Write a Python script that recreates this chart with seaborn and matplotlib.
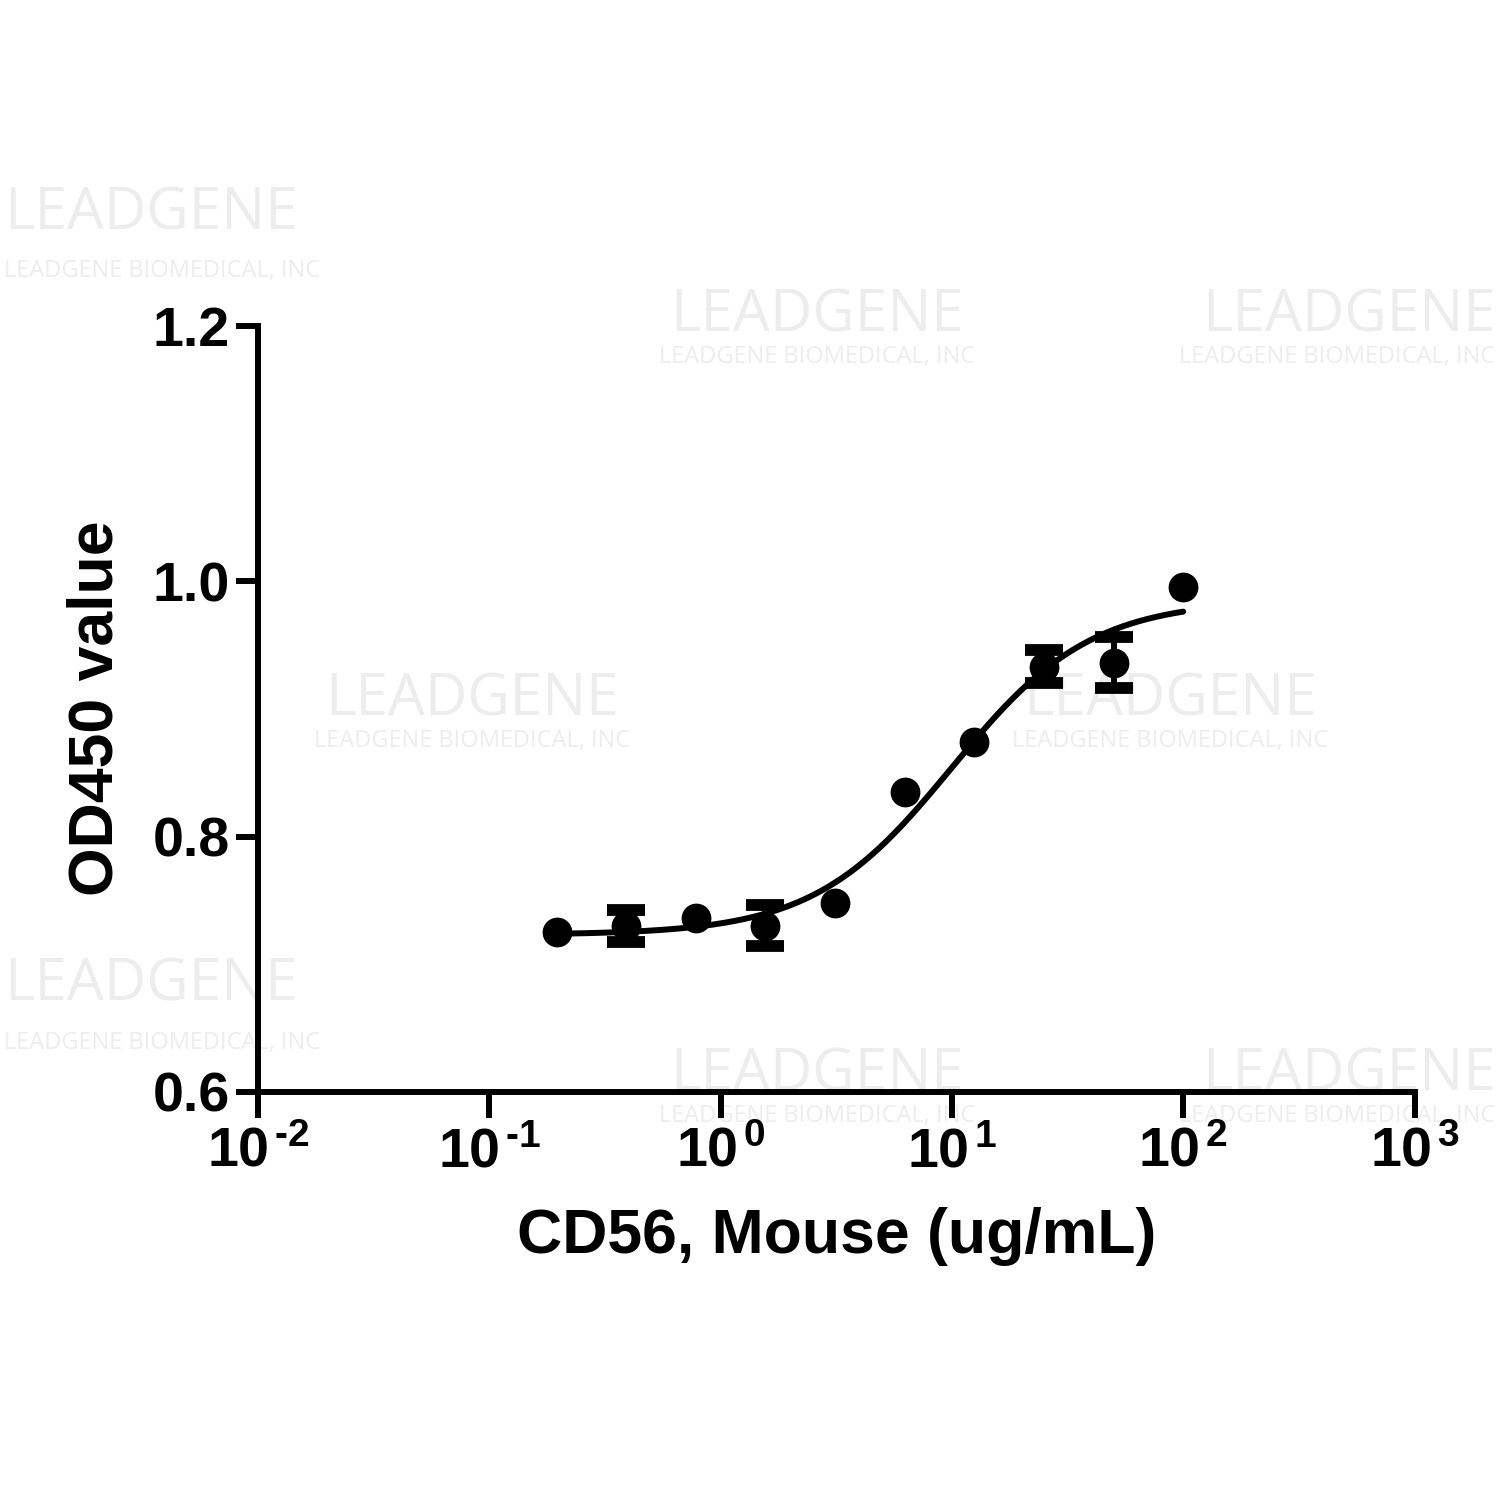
import numpy as np
import pandas as pd
import matplotlib
matplotlib.use("Agg")
import matplotlib.pyplot as plt
import seaborn as sns

# ---- data ----
conc = [0.1953125, 0.390625, 0.78125, 1.5625, 3.125, 6.25, 12.5, 25, 50, 100]
od450 = [0.725, 0.730, 0.736, 0.730, 0.748, 0.835, 0.874, 0.933, 0.936, 0.995]
od_err = [0.0, 0.0125, 0.0, 0.016, 0.0, 0.0, 0.0, 0.013, 0.020, 0.0]
# fitted 4-parameter logistic curve (bottom, top, EC50, Hill slope)
fit_bottom = 0.723
fit_top = 0.985
fit_ec50 = 10.0
fit_hill = 1.45

x_ticks = [1e-2, 1e-1, 1e0, 1e1, 1e2, 1e3]
x_ticklabels = ["$10^{\\hspace{0.15}\\text{-}2}$", "$10^{\\hspace{0.15}\\text{-}1}$",
                "$10^{\\hspace{0.15}0}$", "$10^{\\hspace{0.15}1}$",
                "$10^{\\hspace{0.15}2}$", "$10^{\\hspace{0.15}3}$"]
y_ticks = [0.6, 0.8, 1.0, 1.2]
y_ticklabels = ["0.6", "0.8", "1.0", "1.2"]
x_label = "CD56, Mouse (ug/mL)"
y_label = "OD450 value"
wm_title = "LEADGENE"
wm_sub = "LEADGENE BIOMEDICAL, INC"

sns.set_style("ticks")
plt.rcParams["font.family"] = ["Liberation Sans", "DejaVu Sans"]
plt.rcParams["font.weight"] = "bold"
plt.rcParams["axes.unicode_minus"] = False
plt.rcParams["mathtext.fontset"] = "custom"
plt.rcParams["mathtext.rm"] = "Liberation Sans:bold"
plt.rcParams["mathtext.it"] = "Liberation Sans:bold"
plt.rcParams["mathtext.bf"] = "Liberation Sans:bold"
plt.rcParams["mathtext.default"] = "bf"
plt.rcParams["text.color"] = "black"
plt.rcParams["axes.labelcolor"] = "black"
plt.rcParams["axes.edgecolor"] = "black"

fig = plt.figure(figsize=(15, 15), dpi=100)
ax = fig.add_axes([0.172, 0.272, 0.771, 0.511])
ax.set_zorder(2)

# faint watermark (as in the reference), drawn beneath the axes
wm_color = "#ededed"
# (x, title y, subtitle y, alignment) in figure fractions
wm_pos = [(0.003, 0.857, 0.819, "left"), (0.545, 0.789, 0.762, "center"),
          (0.997, 0.789, 0.762, "right"),
          (0.315, 0.533, 0.506, "center"), (0.78, 0.533, 0.506, "center"),
          (0.003, 0.343, 0.305, "left"), (0.545, 0.283, 0.256, "center"),
          (0.997, 0.283, 0.256, "right")]
for (wx, wy, wsy, ha) in wm_pos:
    fig.text(wx, wy, wm_title, fontsize=42, color=wm_color, ha=ha,
             va="center", fontweight="normal", family="Open Sans", zorder=0)
    fig.text(wx, wsy, wm_sub, fontsize=17, color=wm_color,
             ha=ha, va="center", fontweight="normal", family="Open Sans", zorder=0)

# fitted curve
xc = np.logspace(np.log10(conc[0]), np.log10(conc[-1]), 300)
yc = fit_bottom + (fit_top - fit_bottom) / (1 + (fit_ec50 / xc) ** fit_hill)
curve = pd.DataFrame({"x": xc, "y": yc})
sns.lineplot(data=curve, x="x", y="y", ax=ax, color="black", linewidth=4.3,
             solid_capstyle="round", zorder=3)

# error bars
err_x = [c for c, e in zip(conc, od_err) if e > 0]
err_y = [v for v, e in zip(od450, od_err) if e > 0]
err_e = [e for e in od_err if e > 0]
ax.errorbar(err_x, err_y, yerr=err_e, fmt="none", ecolor="black",
            elinewidth=4.3, capsize=14, capthick=8.5, zorder=4)

# points
pts = pd.DataFrame({"conc": conc, "od": od450})
sns.scatterplot(data=pts, x="conc", y="od", ax=ax, color="black", s=460,
                edgecolor="black", linewidth=0, zorder=5, legend=False)

ax.set_xscale("log")
ax.set_xlim(1e-2, 1e3)
ax.set_ylim(0.6, 1.2)
ax.set_xticks(x_ticks)
ax.set_xticklabels(x_ticklabels)
ax.xaxis.set_minor_locator(matplotlib.ticker.NullLocator())
ax.set_yticks(y_ticks)
ax.set_yticklabels(y_ticklabels)

for s in ["top", "right"]:
    ax.spines[s].set_visible(False)
for s in ["left", "bottom"]:
    ax.spines[s].set_linewidth(4.3)
    ax.spines[s].set_color("black")
    ax.spines[s].set_capstyle("projecting")

ax.tick_params(axis="both", which="major", direction="out", width=4.3,
               labelsize=40, color="black", labelcolor="black")
ax.tick_params(axis="y", length=16, pad=4)
ax.tick_params(axis="x", length=19, pad=6)
for lab in ax.get_xticklabels() + ax.get_yticklabels():
    lab.set_fontweight("bold")

ax.set_xlabel(x_label, fontsize=45, fontweight="bold", labelpad=20, color="black")
ax.set_ylabel(y_label, fontsize=45, fontweight="bold", labelpad=20, color="black")
ax.patch.set_alpha(0)

fig.savefig("out.png", dpi=100, facecolor="white")
